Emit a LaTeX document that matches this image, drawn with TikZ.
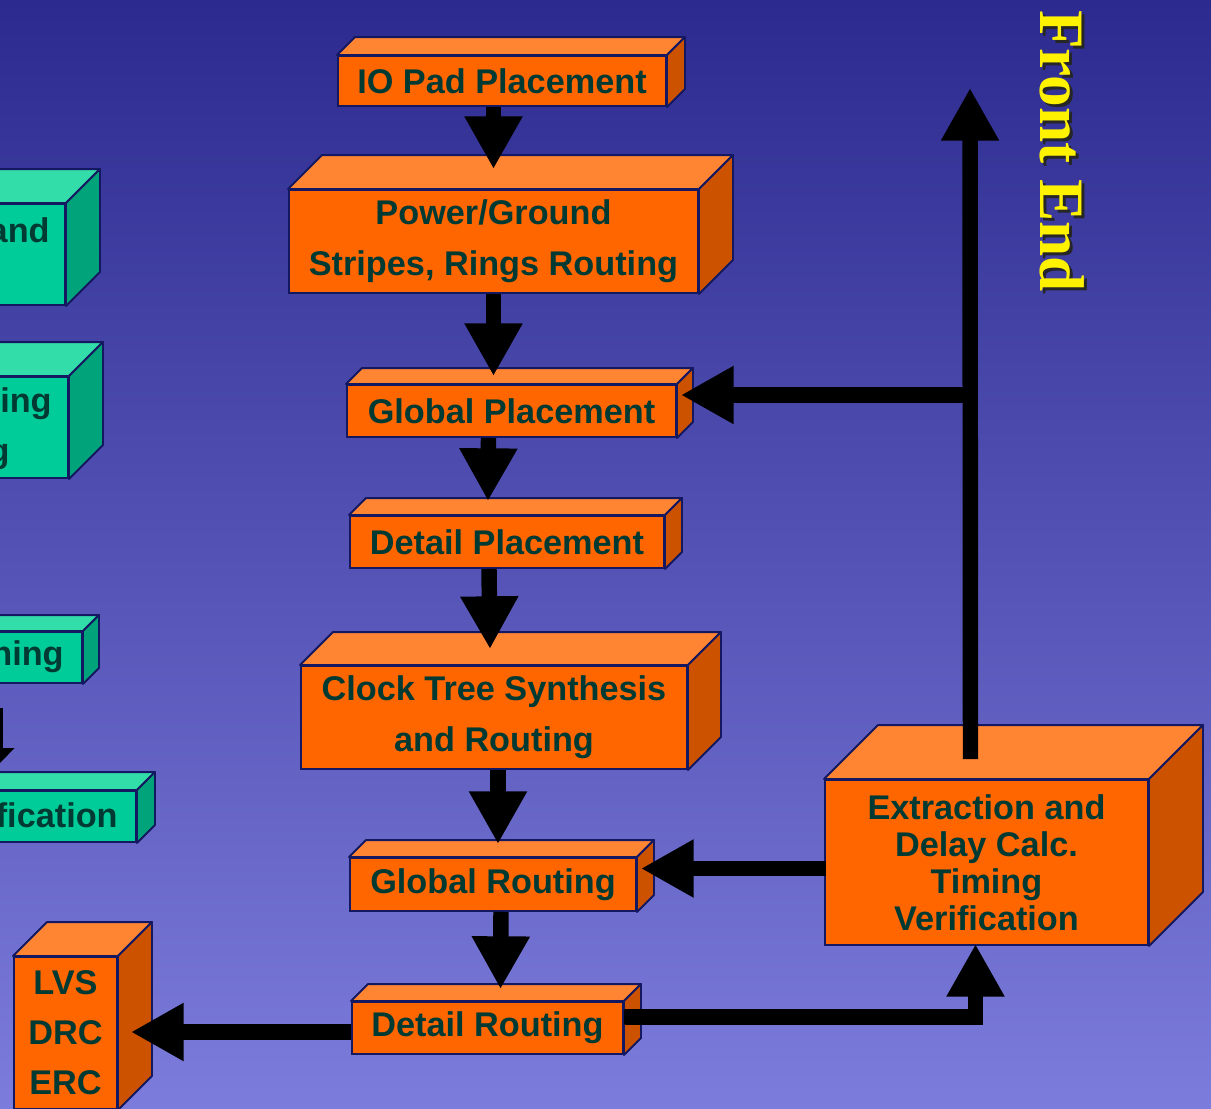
\documentclass[tikz,border=0pt]{standalone}
\usepackage{fontspec}
\setmainfont{Liberation Sans}
\newfontfamily\titlefont{Liberation Serif}
\usetikzlibrary{calc,arrows.meta}

\definecolor{bgtop}{RGB}{44,42,142}
\definecolor{bgbot}{RGB}{124,124,220}
\definecolor{orng}{RGB}{255,102,0}
\definecolor{orngtop}{RGB}{255,133,51}
\definecolor{orngside}{RGB}{204,82,0}
\definecolor{grn}{RGB}{0,204,153}
\definecolor{grntop}{RGB}{51,221,170}
\definecolor{grnside}{RGB}{0,163,122}
\definecolor{edge}{RGB}{20,24,96}
\definecolor{txt}{RGB}{0,58,51}

\begin{document}
\begin{tikzpicture}[x=0.02cm, y=-0.02cm,
    stage/.style n args={2}{draw=edge, line width=1.1pt, fill=orng, text=txt,
                 minimum width=#1*0.02cm, minimum height=#2*0.02cm,
                 inner sep=0pt, align=center,
                 font=\bfseries\fontsize{19.5}{29}\selectfont},
    gstage/.style n args={2}{stage={#1}{#2}, fill=grn},
    face/.style={draw=edge, line width=1.1pt, line join=round},
    lbl/.style={text=txt, inner sep=0pt, font=\bfseries\fontsize{19.5}{29}\selectfont},
    flow/.style={line width=8.8pt, -{Triangle[length=30pt,width=31pt]}},
    gflow/.style={line width=4.5pt, -{Triangle[length=9pt,width=17pt]}},
    title/.style={rotate=-90, inner sep=0pt,
                 font=\titlefont\bfseries\fontsize{36}{40}\selectfont}
]
\useasboundingbox (0,0) rectangle (1211,1109);
\clip (0,0) rectangle (1211,1109);
\shade[top color=bgtop, bottom color=bgbot] (0,0) rectangle (1211,1109);

% left column, cut off by the page edge
\node[gstage={315}{101}] (g1) at (-92.5,254.5) {};
\node[gstage={318}{101}] (g2) at (-91,427.5) {};
\node[gstage={332}{51}] (g3) at (-84,657.5) {};
\node[gstage={386}{51}] (g4) at (-57,816.5) {};

% main flow
\node[stage={328}{50}] (io) at (502,81) {IO Pad Placement};
\node[stage={409}{103}] (pg) at (493.5,241.5) {Power/Ground\\Stripes, Rings Routing};
\node[stage={329}{52}] (gp) at (511.5,411) {Global Placement};
\node[stage={314}{52}] (dp) at (507,542) {Detail Placement};
\node[stage={386}{103}] (cts) at (494,717.5) {Clock Tree Synthesis\\and Routing};
\node[stage={286}{53}] (gr) at (493,884.5) {Global Routing};
\node[stage={271}{52}] (dr) at (487.5,1028) {Detail Routing};
\node[stage={323}{165}, font=\bfseries\fontsize{19.5}{21}\selectfont] (ext) at (986.5,862.5)
    {Extraction and\\Delay Calc.\\Timing\\Verification};
\node[stage={103}{152}, font=\bfseries\fontsize{19.5}{28.4}\selectfont] (lvs) at (65.5,1033)
    {LVS\\DRC\\ERC};

% top and side faces
\foreach \n/\d/\ct/\cs in {g1/34/grntop/grnside, g2/34/grntop/grnside,
    g3/16/grntop/grnside, g4/18/grntop/grnside,
    io/18/orngtop/orngside, pg/34/orngtop/orngside, gp/16/orngtop/orngside,
    dp/17/orngtop/orngside, cts/33/orngtop/orngside, gr/17/orngtop/orngside,
    dr/17/orngtop/orngside, ext/54/orngtop/orngside, lvs/34/orngtop/orngside}{
  \filldraw[face, fill=\ct] (\n.north west) -- ++(\d,-\d)
      -- ($(\n.north east)+(\d,-\d)$) -- (\n.north east) -- cycle;
  \filldraw[face, fill=\cs] (\n.north east) -- ++(\d,-\d)
      -- ($(\n.south east)+(\d,-\d)$) -- (\n.south east) -- cycle;
}

% visible ends of the left texts
\node[lbl, anchor=base east] (g1a) at (50,242) {and};
\node[lbl, anchor=base east] (g2a) at (52,412) {ing};
\node[lbl, anchor=base east] (g2b) at (10,462) {g};
\node[lbl, anchor=base east] (g3a) at (64,665) {ning};
\node[lbl, anchor=base east] (g4a) at (118,827) {fication};

\draw[gflow] ($(g3.south east)+(-84,24)$) -- ($(g4.north east)+(-138,-26)$);

% arrows
\draw[flow] (io.south -| pg.north) -- ($(pg.north)+(0,-20)$);
\draw[flow] (pg.south) -- ($(pg.south |- gp.north)+(0,-8)$);
\draw[flow] ($(gp.south)+(-23,0)$) -- ($(dp.north)+(-19,-14)$);
\draw[flow] ($(dp.south)+(-18,0)$) -- ($(cts.north)+(-4,-16)$);
\draw[flow] ($(cts.south)+(4,0)$) -- ($(gr.north)+(5,-13)$);
\draw[flow] ($(gr.south)+(8,0)$) -- ($(dr.north)+(13,-12)$);
\draw[flow] ($(dr.west)+(0,4)$) -- ($(dr.west -| lvs.east)+(13,4)$);
\draw[flow] ($(dr.east)+(0,-11)$) -| ($(ext.south)+(-11,-2)$);

\coordinate (fb) at ($(ext.west)+(2,6)$);
\draw[flow] (fb) -- ($(fb -| gr.east)+(4,0)$);

\coordinate (fe) at (970,88);
\coordinate (br) at (970,395);
\draw[flow] ($(ext.north)+(-16,-20)$) -- (fe);
\draw[flow] (br) -- ($(br -| gp.east)+(4,0)$);

% label on the right
\node[title, text=black!85] (fes) at (1065,154) {Front End};
\node[title, text=yellow] (fet) at (1062,151) {Front End};
\end{tikzpicture}
\end{document}
